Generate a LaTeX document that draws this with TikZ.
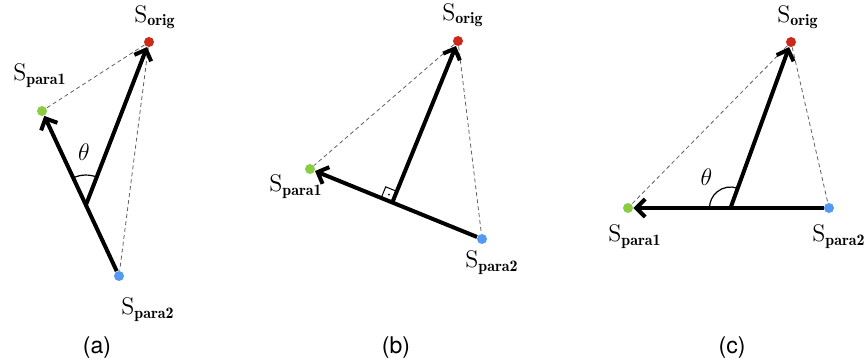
\documentclass[tikz,border=0pt]{standalone}
\usepackage{fontspec}
\usepackage{amsmath}
\usepackage{tikz}
\usetikzlibrary{arrows.meta, positioning, calc, angles}
\newfontfamily\capfont{TeX Gyre Heros}
\definecolor{origred}{RGB}{204, 41, 26}
\definecolor{paragreen}{RGB}{139, 204, 69}
\definecolor{parablue}{RGB}{84, 153, 243}
\definecolor{dashgray}{RGB}{95, 95, 95}

\begin{document}
\begin{tikzpicture}[
    x=0.5pt, y=0.5pt,
    dot/.style={circle, minimum size=5pt,
                inner sep=0pt},
    vecarr/.style={-{Straight Barb[length=4.5pt,
                                   width=9pt]},
                   line width=2pt},
    dashln/.style={dash pattern=on 2pt off 1.5pt,
                   line width=0.4pt, color=dashgray},
    slab/.style={font=\large, inner sep=1pt},
    thlab/.style={font=\large, inner sep=0pt},
    sublab/.style={font=\capfont\fontsize{11.5}{13}\selectfont},
]
\useasboundingbox (0,0) rectangle (868,-363);

% -- (a) ------------------------------------
\node[dot, fill=origred]   (oa)  at (149,-42)  {};
\node[dot, fill=paragreen] (p1a) at (42,-111)  {};
\node[dot, fill=parablue]  (p2a) at (119,-276) {};
\coordinate (fa) at ($(p2a)!0.43!(p1a)$);

\node[slab, above=2.5pt of oa, xshift=3pt]
    (loa)  {$\mathrm{S}_{\mathbf{orig}}$};
\node[slab, above=8pt of p1a, xshift=-1pt]
    (lp1a) {$\mathrm{S}_{\mathbf{para1}}$};
\node[slab, below=7pt of p2a, xshift=14.5pt]
    (lp2a) {$\mathrm{S}_{\mathbf{para2}}$};

\draw[dashln] (oa) -- (p1a);
\draw[dashln] (oa) -- (p2a);
\draw[vecarr] (p2a) -- (p1a);
\draw[vecarr] (fa) -- (oa);
\pic[draw, line width=0.6pt, angle radius=15pt]
    {angle=oa--fa--p1a};
\node[thlab, above=22pt of fa, xshift=-1pt]
    (tha) {$\theta$};

% -- (b) ------------------------------------
\node[dot, fill=origred]   (ob)  at (458,-41)  {};
\node[dot, fill=paragreen] (p1b) at (310,-169) {};
\node[dot, fill=parablue]  (p2b) at (482,-239) {};
\coordinate (fb) at ($(p2b)!(ob)!(p1b)$);

\node[slab, above=3pt of ob, xshift=2.5pt]
    (lob)  {$\mathrm{S}_{\mathbf{orig}}$};
\node[slab, below=-1pt of p1b, xshift=-7pt]
    (lp1b) {$\mathrm{S}_{\mathbf{para1}}$};
\node[slab, below=2pt of p2b, xshift=5pt]
    (lp2b) {$\mathrm{S}_{\mathbf{para2}}$};

\draw[dashln] (ob) -- (p1b);
\draw[dashln] (ob) -- (p2b);
\draw[vecarr] (p2b) -- (p1b);
\draw[vecarr] (fb) -- (ob);

% right-angle mark
\coordinate (qa) at ($(fb)!6pt!(p1b)$);
\coordinate (qb) at ($(fb)!6pt!(ob)$);
\coordinate (qc) at ($(qa)+(qb)-(fb)$);
\draw[line width=0.5pt] (qa) -- (qc) -- (qb);
\fill ($(fb)!0.5!(qc)$) circle (0.5pt);

% -- (c) ------------------------------------
\node[dot, fill=origred]   (oc)  at (791,-42)  {};
\node[dot, fill=paragreen] (p1c) at (628,-208) {};
\node[dot, fill=parablue]  (p2c) at (829,-208) {};
\coordinate (fc) at ($(p2c)!0.49!(p1c)$);

\node[slab, above=2.5pt of oc, xshift=3.5pt]
    (loc)  {$\mathrm{S}_{\mathbf{orig}}$};
\node[slab, below=4.5pt of p1c, xshift=3.5pt]
    (lp1c) {$\mathrm{S}_{\mathbf{para1}}$};
\node[slab, below=4.5pt of p2c, xshift=5pt]
    (lp2c) {$\mathrm{S}_{\mathbf{para2}}$};

\draw[dashln] (oc) -- (p1c);
\draw[dashln] (oc) -- (p2c);
\draw[vecarr] (p2c) -- (p1c);
\draw[vecarr] (fc) -- (oc);
\pic[draw, line width=0.6pt, angle radius=10.5pt]
    {angle=oc--fc--p1c};
\node[thlab, above=11pt of fc, xshift=-12pt]
    (thc) {$\theta$};

% -- Captions -------------------------------
\node[sublab] (capa) at (97,-348)  {(a)};
\node[sublab] (capb) at (396,-348) {(b)};
\node[sublab] (capc) at (732,-348) {(c)};

\end{tikzpicture}
\end{document}
